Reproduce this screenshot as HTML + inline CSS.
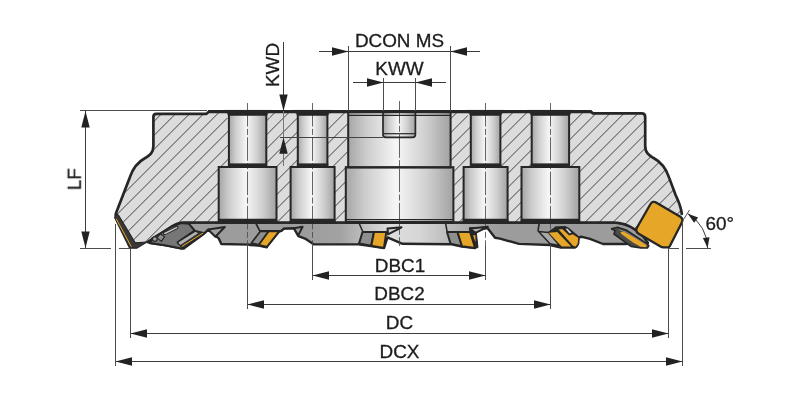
<!DOCTYPE html>
<html lang="en"><head><meta charset="utf-8"><title>Face mill dimension drawing</title>
<style>
html,body{margin:0;padding:0;background:#fff;}
body{width:800px;height:400px;overflow:hidden;}
svg{display:block;}
svg text{font-family:"Liberation Sans",Arial,Helvetica,sans-serif;fill:#1c1c1c;}
</style></head>
<body>
<svg width="800" height="400" viewBox="0 0 800 400">
<rect width="800" height="400" fill="#fff"/>
<defs>
<linearGradient id="cyl" x1="0" x2="1" y1="0" y2="0">
<stop offset="0" stop-color="#a6a6a6"/><stop offset="0.18" stop-color="#cdcdcd"/><stop offset="0.47" stop-color="#f6f6f6"/><stop offset="0.75" stop-color="#d0d0d0"/><stop offset="1" stop-color="#a2a2a2"/>
</linearGradient>
<linearGradient id="band" gradientUnits="userSpaceOnUse" x1="300" x2="500" y1="0" y2="0">
<stop offset="0" stop-color="#9c9c9c"/><stop offset="0.2" stop-color="#a2a2a2"/><stop offset="0.45" stop-color="#dedede"/><stop offset="0.6" stop-color="#d6d6d6"/><stop offset="0.8" stop-color="#b0b0b0"/><stop offset="1" stop-color="#9c9c9c"/>
</linearGradient>
<pattern id="hatch" patternUnits="userSpaceOnUse" width="14" height="14" x="1.4" y="0">
<path d="M-1,9 L9,-1 M7,15 L15,7" stroke="#303030" stroke-width="0.9" fill="none"/>
</pattern>
<clipPath id="bodyclip"><path d="M156.4,113.9 L206.5,113.9 L209,111.4 L590.5,111.4 L593,113.4 L641.7,113.4 Q645.2,113.4 645.2,116.9 L645.2,146 C645.2,153 649.4,155.6 653.2,157.8 C661,162 666,168.4 669,177.4 L675.6,195 C679,202 681,207 681.5,214 L667,247 L640,232 L635,229.5 C628,224.5 622,222.5 613,222.5 L183,222.5 C179,222.5 176,224 172,226.5 L148,242 L135,243 L116.6,213.8 L117.2,210 L129.8,177.4 C132.8,168.4 137.8,162 145.6,157.8 C149.4,155.6 153.4,153 153.4,146 L153.4,116.9 Q153.4,113.9 156.4,113.9 Z"/></clipPath>
</defs>
<path d="M181,222.5 L613,222.5 C622,222.5 628,224.5 635,229.5 L640,232 L648,243 L624,244 L603,244 L590,238.8 L582,236.8 L579,237.2 L575,247.5 L561,247.5 L550,245 L519,243.9 L500,238.6 L495,237.8 L487.5,228 L470,228.5 L475,248 L462,246.6 L450.5,244.2 L402.5,243.8 L387.5,237.4 L384,248 L371,246 L358.5,244.4 L314,244.4 L305,238.6 L298.4,236.2 L294.2,228.6 L284,228.6 L281.4,230.8 L279,231.6 L266.8,246.8 L258.9,245 L249.8,244.6 L221.3,244 L218.8,238.4 L215,235.5 L208.3,229.6 L204.6,233.2 L184,248.4 L181,248.4 L166,245.4 L150,243 L148,242 Z" fill="url(#band)" stroke="#262626" stroke-width="2.4" stroke-linejoin="round" stroke-linecap="round"/>
<path d="M156.4,113.9 L206.5,113.9 L209,111.4 L590.5,111.4 L593,113.4 L641.7,113.4 Q645.2,113.4 645.2,116.9 L645.2,146 C645.2,153 649.4,155.6 653.2,157.8 C661,162 666,168.4 669,177.4 L675.6,195 C679,202 681,207 681.5,214 L667,247 L640,232 L635,229.5 C628,224.5 622,222.5 613,222.5 L183,222.5 C179,222.5 176,224 172,226.5 L148,242 L135,243 L116.6,213.8 L117.2,210 L129.8,177.4 C132.8,168.4 137.8,162 145.6,157.8 C149.4,155.6 153.4,153 153.4,146 L153.4,116.9 Q153.4,113.9 156.4,113.9 Z" fill="#dcdcdc"/>
<rect x="100" y="100" width="600" height="160" fill="url(#hatch)" clip-path="url(#bodyclip)"/>
<path d="M148.4,158.9 C142.4,161.6 137.5,166 134.3,172" fill="none" stroke="#dcdcdc" stroke-width="3.4" stroke-linejoin="round" stroke-linecap="round"/>
<rect x="225.9" y="111" width="43.4" height="7" fill="#dcdcdc"/>
<rect x="228.9" y="112" width="37.4" height="54" fill="url(#cyl)"/>
<rect x="218.7" y="167" width="57.8" height="55" fill="url(#cyl)"/>
<rect x="294.8" y="111" width="35.6" height="7" fill="#dcdcdc"/>
<rect x="297.8" y="112" width="29.6" height="54" fill="url(#cyl)"/>
<rect x="290.6" y="167" width="44.0" height="55" fill="url(#cyl)"/>
<rect x="467.8" y="111" width="35.6" height="7" fill="#dcdcdc"/>
<rect x="470.8" y="112" width="29.6" height="54" fill="url(#cyl)"/>
<rect x="463.6" y="167" width="44.0" height="55" fill="url(#cyl)"/>
<rect x="528.6999999999999" y="111" width="43.4" height="7" fill="#dcdcdc"/>
<rect x="531.6999999999999" y="112" width="37.4" height="54" fill="url(#cyl)"/>
<rect x="521.5" y="167" width="57.8" height="55" fill="url(#cyl)"/>
<rect x="348.2" y="111.5" width="102.4" height="56" fill="url(#cyl)"/>
<rect x="345.8" y="167.2" width="107.6" height="55" fill="url(#cyl)"/>
<path d="M383,111.5 L383,134.5 Q383,137.3 385.8,137.3 L412.6,137.3 Q415.4,137.3 415.4,134.5 L415.4,111.5 Z" fill="url(#cyl)" stroke="none" stroke-width="0" stroke-linejoin="round" stroke-linecap="round"/>
<line x1="247.5" x2="247.5" y1="103" y2="246" stroke="#4a4a4a" stroke-width="0.85" stroke-dasharray="23.5 2.4 6 2.4" stroke-dashoffset="0"/>
<line x1="312.5" x2="312.5" y1="103" y2="246" stroke="#4a4a4a" stroke-width="0.85" stroke-dasharray="23.5 2.4 6 2.4" stroke-dashoffset="0"/>
<line x1="399.5" x2="399.5" y1="101" y2="246" stroke="#4a4a4a" stroke-width="0.85" stroke-dasharray="23.5 2.4 6 2.4" stroke-dashoffset="1"/>
<line x1="485.5" x2="485.5" y1="103" y2="246" stroke="#4a4a4a" stroke-width="0.85" stroke-dasharray="23.5 2.4 6 2.4" stroke-dashoffset="0"/>
<line x1="550.5" x2="550.5" y1="103" y2="246" stroke="#4a4a4a" stroke-width="0.85" stroke-dasharray="23.5 2.4 6 2.4" stroke-dashoffset="0"/>
<rect x="228.9" y="112" width="37.4" height="54" fill="none" stroke="#262626" stroke-width="2"/>
<rect x="218.7" y="167" width="57.8" height="55" fill="none" stroke="#262626" stroke-width="2"/>
<rect x="228.1" y="163.4" width="39.0" height="4.4" fill="#262626"/>
<path d="M224.4,110.4 L270.8,110.4 L270.8,111.6 Q267.3,112 266.90000000000003,115.4 L228.3,115.4 Q227.9,112 224.4,111.6 Z" fill="#262626" stroke="#262626" stroke-width="0.6" stroke-linejoin="round" stroke-linecap="round"/>
<rect x="297.8" y="112" width="29.6" height="54" fill="none" stroke="#262626" stroke-width="2"/>
<rect x="290.6" y="167" width="44.0" height="55" fill="none" stroke="#262626" stroke-width="2"/>
<rect x="297.0" y="163.4" width="31.200000000000003" height="4.4" fill="#262626"/>
<path d="M293.3,110.4 L331.90000000000003,110.4 L331.90000000000003,111.6 Q328.40000000000003,112 328.00000000000006,115.4 L297.2,115.4 Q296.8,112 293.3,111.6 Z" fill="#262626" stroke="#262626" stroke-width="0.6" stroke-linejoin="round" stroke-linecap="round"/>
<rect x="470.8" y="112" width="29.6" height="54" fill="none" stroke="#262626" stroke-width="2"/>
<rect x="463.6" y="167" width="44.0" height="55" fill="none" stroke="#262626" stroke-width="2"/>
<rect x="470.0" y="163.4" width="31.200000000000003" height="4.4" fill="#262626"/>
<path d="M466.3,110.4 L504.90000000000003,110.4 L504.90000000000003,111.6 Q501.40000000000003,112 501.00000000000006,115.4 L470.2,115.4 Q469.8,112 466.3,111.6 Z" fill="#262626" stroke="#262626" stroke-width="0.6" stroke-linejoin="round" stroke-linecap="round"/>
<rect x="531.6999999999999" y="112" width="37.4" height="54" fill="none" stroke="#262626" stroke-width="2"/>
<rect x="521.5" y="167" width="57.8" height="55" fill="none" stroke="#262626" stroke-width="2"/>
<rect x="530.9" y="163.4" width="39.0" height="4.4" fill="#262626"/>
<path d="M527.1999999999999,110.4 L573.6,110.4 L573.6,111.6 Q570.1,112 569.7,115.4 L531.0999999999999,115.4 Q530.6999999999999,112 527.1999999999999,111.6 Z" fill="#262626" stroke="#262626" stroke-width="0.6" stroke-linejoin="round" stroke-linecap="round"/>
<rect x="348.2" y="111.5" width="102.4" height="56" fill="none" stroke="#262626" stroke-width="2"/>
<rect x="345.8" y="167.2" width="107.6" height="55" fill="none" stroke="#262626" stroke-width="2"/>
<line x1="348" x2="450.6" y1="115.4" y2="115.4" stroke="#262626" stroke-width="1.3"/>
<line x1="346" x2="453" y1="219.6" y2="219.6" stroke="#262626" stroke-width="1.1"/>
<path d="M383,111.5 L383,134.5 Q383,137.3 385.8,137.3 L412.6,137.3 Q415.4,137.3 415.4,134.5 L415.4,111.5" fill="none" stroke="#262626" stroke-width="1.7" stroke-linejoin="round" stroke-linecap="round"/>
<line x1="383.6" x2="414.8" y1="133.7" y2="133.7" stroke="#262626" stroke-width="1.2"/>
<path d="M209,111.4 L206.5,113.9 L156.4,113.9 Q153.4,113.9 153.4,116.9 L153.4,146 C153.4,153 149.4,155.6 145.6,157.8 C137.8,162 132.8,168.4 129.8,177.4 L117.6,209 Q116.2,212 115.6,215" fill="none" stroke="#262626" stroke-width="2.7" stroke-linejoin="round" stroke-linecap="round"/>
<path d="M590.5,111.4 L593,113.4 L641.7,113.4 Q645.2,113.4 645.2,116.9 L645.2,146 C645.2,153 649.4,155.6 653.2,157.8 C661,162 666,168.4 669,177.4 L675.6,195 C679,202 681,207 681.8,214" fill="none" stroke="#262626" stroke-width="2.7" stroke-linejoin="round" stroke-linecap="round"/>
<line x1="208" x2="591.5" y1="111.7" y2="111.7" stroke="#262626" stroke-width="3.2"/>
<path d="M148,242 L172,226.5 C176,224 179,222.5 183,222.5 L613,222.5 C622,222.5 628,224.5 635,229.5 L640,232" fill="none" stroke="#262626" stroke-width="2.7" stroke-linejoin="round" stroke-linecap="round"/>
<path d="M215.29999999999998,223.7 Q218.1,222.6 218.29999999999998,218.7 L276.9,218.7 Q277.1,222.6 279.9,223.7 Z" fill="#262626" stroke="none" stroke-width="0" stroke-linejoin="round" stroke-linecap="round"/>
<path d="M287.20000000000005,223.7 Q290.0,222.6 290.20000000000005,218.7 L335.0,218.7 Q335.20000000000005,222.6 338.0,223.7 Z" fill="#262626" stroke="none" stroke-width="0" stroke-linejoin="round" stroke-linecap="round"/>
<path d="M460.20000000000005,223.7 Q463.0,222.6 463.20000000000005,218.7 L508.0,218.7 Q508.20000000000005,222.6 511.0,223.7 Z" fill="#262626" stroke="none" stroke-width="0" stroke-linejoin="round" stroke-linecap="round"/>
<path d="M518.1,223.7 Q520.9,222.6 521.1,218.7 L579.6999999999999,218.7 Q579.9,222.6 582.6999999999999,223.7 Z" fill="#262626" stroke="none" stroke-width="0" stroke-linejoin="round" stroke-linecap="round"/>
<rect x="345" y="221.3" width="109" height="2.5" fill="#262626"/>
<path d="M114.6,217.4 L116.6,213.8 L119,216 L135.2,242.8 L147,242 L136.6,248.2 L129.6,248.2 Z" fill="#383838" stroke="#262626" stroke-width="1.2" stroke-linejoin="round" stroke-linecap="round"/>
<path d="M116.3,219.2 L131.2,246.4" fill="none" stroke="#e6a627" stroke-width="1" stroke-linejoin="round" stroke-linecap="round"/>
<path d="M150,243 L152.5,238 L172,226.5 L181,223 L189,223.8 L194.6,230.5 L177.6,242.4 L184,248.4 L181,248.4 L166,245.4 Z" fill="#767676" stroke="#262626" stroke-width="2.0" stroke-linejoin="round" stroke-linecap="round"/>
<path d="M156.8,237.6 L160.2,234 L164.6,236.6 L161.4,241.4 Z" fill="#8c8c8c" stroke="#262626" stroke-width="1.1" stroke-linejoin="round" stroke-linecap="round"/>
<path d="M164.6,233.6 L176.8,227.5" fill="none" stroke="#262626" stroke-width="3.4" stroke-linejoin="round" stroke-linecap="round"/>
<path d="M164.8,233.5 L176.6,227.6" fill="none" stroke="#c4c4c4" stroke-width="1.6" stroke-linejoin="round" stroke-linecap="round"/>
<circle cx="154.8" cy="239" r="2.3" fill="#a0a0a0" stroke="#262626" stroke-width="1.1"/>
<path d="M177.5,242.3 L195.4,230.8 L204.4,233 L183.4,248.4 Z" fill="#343434" stroke="#262626" stroke-width="1.4" stroke-linejoin="round" stroke-linecap="round"/>
<path d="M178.4,242.6 L195.6,231.7 L198,233.2 L180.2,245 Z" fill="#b4b4b4" stroke="none" stroke-width="0" stroke-linejoin="round" stroke-linecap="round"/>
<path d="M182,246.3 L202.8,233.2" fill="none" stroke="#e6a627" stroke-width="1.0" stroke-linejoin="round" stroke-linecap="round"/>
<path d="M208.4,229.6 L224.8,227 L215.3,236.7 Z" fill="#a0a0a0" stroke="#262626" stroke-width="2.0" stroke-linejoin="round" stroke-linecap="round"/>
<path d="M294,228.2 L302.6,226.8 L298.2,235.4 Z" fill="#a0a0a0" stroke="#262626" stroke-width="2.0" stroke-linejoin="round" stroke-linecap="round"/>
<path d="M387.5,228.6 L401.5,227.3 L388,234.4 Z" fill="#d0d0d0" stroke="#262626" stroke-width="2.0" stroke-linejoin="round" stroke-linecap="round"/>
<path d="M470.5,228.6 L487.8,226.8 L474.5,233.4 Z" fill="#b4b4b4" stroke="#262626" stroke-width="2.0" stroke-linejoin="round" stroke-linecap="round"/>
<path d="M256.2,224 L259.8,230.8 L281.4,230.8 L283.6,228.6 L293.6,227.8" fill="none" stroke="#262626" stroke-width="1.7" stroke-linejoin="round" stroke-linecap="round"/>
<path d="M251.4,243 L260.2,231.4 L268.6,231.4 L258.9,244.8 Z" fill="#8f8f8f" stroke="#262626" stroke-width="1.7" stroke-linejoin="round" stroke-linecap="round"/>
<path d="M268.6,231.4 L279.2,231.4 L266.8,246.9 L258.9,244.8 Z" fill="#e6a627" stroke="#262626" stroke-width="1.7" stroke-linejoin="round" stroke-linecap="round"/>
<path d="M249.8,245 L258.9,245.6 L266.8,247.3" fill="none" stroke="#262626" stroke-width="2.4" stroke-linejoin="round" stroke-linecap="round"/>
<path d="M359,223 L362.5,231" fill="none" stroke="#262626" stroke-width="1.5" stroke-linejoin="round" stroke-linecap="round"/>
<path d="M362.5,232 L374,232 L371.3,245.8 L359,243.6 Z" fill="#8f8f8f" stroke="#262626" stroke-width="2.0" stroke-linejoin="round" stroke-linecap="round"/>
<path d="M374,232 L386.3,232 L384,247.9 L371.3,245.8 Z" fill="#e6a627" stroke="#262626" stroke-width="2.0" stroke-linejoin="round" stroke-linecap="round"/>
<path d="M445.6,223 L447,231" fill="none" stroke="#262626" stroke-width="1.5" stroke-linejoin="round" stroke-linecap="round"/>
<path d="M447,232 L457.5,232 L462,246.3 L450.5,243.6 Z" fill="#8f8f8f" stroke="#262626" stroke-width="2.0" stroke-linejoin="round" stroke-linecap="round"/>
<path d="M457.5,232 L470,232 L475.2,248 L462,246.3 Z" fill="#e6a627" stroke="#262626" stroke-width="2.0" stroke-linejoin="round" stroke-linecap="round"/>
<path d="M470,228.6 L476.3,232.5 L478,247.6 L475.2,248 Z" fill="#262626" stroke="#262626" stroke-width="1" stroke-linejoin="round" stroke-linecap="round"/>
<path d="M473,235.3 L475.4,235.3 L475.6,242.5 Z" fill="#e6a627" stroke="none" stroke-width="0" stroke-linejoin="round" stroke-linecap="round"/>
<path d="M539.2,223.6 L538,230.6" fill="none" stroke="#262626" stroke-width="1.6" stroke-linejoin="round" stroke-linecap="round"/>
<path d="M548.3,232.2 L553.4,228.6 L555.5,226.9 L565.3,226.6 L568.8,228.3 L579.2,237 L578.9,243.8 L576.8,247.4 L561.1,247.4 L558,244.75 Z" fill="#262626" stroke="#262626" stroke-width="1.0" stroke-linejoin="round" stroke-linecap="round"/>
<path d="M538.6,231.6 L548.5,232.6 L559.5,245.4 L550,243.8 Z" fill="#a8a8a8" stroke="#262626" stroke-width="1.5" stroke-linejoin="round" stroke-linecap="round"/>
<path d="M548.8,232.7 L557.2,231.9 L571.2,246.4 L561.8,246.4 L559.8,244.6 Z" fill="#e6a627" stroke="none" stroke-width="0" stroke-linejoin="round" stroke-linecap="round"/>
<path d="M558.7,229.4 L562.2,228.9 L569.2,235.6 L572.6,234.3 L578.2,237.8 L577.8,243.2 L575.8,246.4 L573,245.8 Z" fill="#e6a627" stroke="none" stroke-width="0" stroke-linejoin="round" stroke-linecap="round"/>
<path d="M565.6,228.8 L567.4,228.5 L571.4,232.5 L569.6,233.6 Z" fill="#d4d4d4" stroke="none" stroke-width="0" stroke-linejoin="round" stroke-linecap="round"/>
<path d="M611.5,228.8 L617.5,227.2 L626,230 L647.6,244.2 L648.8,245.8 L647.4,248 L641,248 L631,246.4 L614,234 L615,230.8 Z" fill="#4a4a4a" stroke="#262626" stroke-width="1.6" stroke-linejoin="round" stroke-linecap="round"/>
<path d="M619.5,229.8 L626,232 L646,244.6" fill="none" stroke="#858585" stroke-width="1.0" stroke-linejoin="round" stroke-linecap="round"/>
<path d="M620.4,232 L623.6,231.6 L635,238 L646.8,245.4 L646,247.2 L640.5,246.8 L633,242.5 L621.4,234 Z" fill="#e6a627" stroke="none" stroke-width="0" stroke-linejoin="round" stroke-linecap="round"/>
<path d="M650.36,204.30 Q652.60,200.40 656.48,202.68 L679.92,216.42 Q683.80,218.70 681.75,222.71 L669.75,246.23 Q669.20,247.30 668.00,247.30 L663.20,247.30 Q662.00,247.30 660.96,246.69 L638.68,233.67 Q634.80,231.40 637.04,227.50 Z" fill="#e6a627" stroke="#262626" stroke-width="2.3" stroke-linejoin="round" stroke-linecap="round"/>
<line x1="312.5" x2="312.5" y1="246" y2="280" stroke="#4c4c4c" stroke-width="1" shape-rendering="crispEdges"/>
<line x1="485.5" x2="485.5" y1="246" y2="280" stroke="#4c4c4c" stroke-width="1" shape-rendering="crispEdges"/>
<line x1="312.5" x2="485.5" y1="275.5" y2="275.5" stroke="#3c3c3c" stroke-width="1" shape-rendering="crispEdges"/>
<path d="M312.5,275.5 L329.00,271.30 L329.00,279.70 Z" fill="#222"/>
<path d="M485.5,275.5 L469.00,279.70 L469.00,271.30 Z" fill="#222"/>
<line x1="247.5" x2="247.5" y1="246" y2="308.5" stroke="#4c4c4c" stroke-width="1" shape-rendering="crispEdges"/>
<line x1="550.5" x2="550.5" y1="246" y2="308.5" stroke="#4c4c4c" stroke-width="1" shape-rendering="crispEdges"/>
<line x1="247.5" x2="550.5" y1="304.5" y2="304.5" stroke="#3c3c3c" stroke-width="1" shape-rendering="crispEdges"/>
<path d="M247.5,304.5 L264.00,300.30 L264.00,308.70 Z" fill="#222"/>
<path d="M550.5,304.5 L534.00,308.70 L534.00,300.30 Z" fill="#222"/>
<line x1="130.5" x2="130.5" y1="248" y2="337.5" stroke="#4c4c4c" stroke-width="1" shape-rendering="crispEdges"/>
<line x1="668.5" x2="668.5" y1="248" y2="337.5" stroke="#4c4c4c" stroke-width="1" shape-rendering="crispEdges"/>
<line x1="130.5" x2="668.5" y1="333.5" y2="333.5" stroke="#3c3c3c" stroke-width="1" shape-rendering="crispEdges"/>
<path d="M130.5,333.5 L147.00,329.30 L147.00,337.70 Z" fill="#222"/>
<path d="M668.5,333.5 L652.00,337.70 L652.00,329.30 Z" fill="#222"/>
<line x1="115.5" x2="115.5" y1="224" y2="366" stroke="#4c4c4c" stroke-width="1" shape-rendering="crispEdges"/>
<line x1="682.5" x2="682.5" y1="221" y2="366" stroke="#4c4c4c" stroke-width="1" shape-rendering="crispEdges"/>
<line x1="115.5" x2="682.5" y1="361.5" y2="361.5" stroke="#3c3c3c" stroke-width="1" shape-rendering="crispEdges"/>
<path d="M115.5,361.5 L132.00,357.30 L132.00,365.70 Z" fill="#222"/>
<path d="M682.5,361.5 L666.00,365.70 L666.00,357.30 Z" fill="#222"/>
<line x1="80" x2="207" y1="110.5" y2="110.5" stroke="#4c4c4c" stroke-width="1" shape-rendering="crispEdges"/>
<line x1="80" x2="111" y1="248.5" y2="248.5" stroke="#4c4c4c" stroke-width="1" shape-rendering="crispEdges"/>
<line x1="119" x2="131" y1="248.5" y2="248.5" stroke="#4c4c4c" stroke-width="1" shape-rendering="crispEdges"/>
<line x1="85.5" x2="85.5" y1="111" y2="248" stroke="#3c3c3c" stroke-width="1" shape-rendering="crispEdges"/>
<path d="M85.5,111 L89.70,127.50 L81.30,127.50 Z" fill="#222"/>
<path d="M85.5,248 L81.30,231.50 L89.70,231.50 Z" fill="#222"/>
<line x1="348.5" x2="348.5" y1="46" y2="111" stroke="#4c4c4c" stroke-width="1" shape-rendering="crispEdges"/>
<line x1="450.5" x2="450.5" y1="46" y2="111" stroke="#4c4c4c" stroke-width="1" shape-rendering="crispEdges"/>
<line x1="319" x2="480" y1="51.5" y2="51.5" stroke="#3c3c3c" stroke-width="1" shape-rendering="crispEdges"/>
<path d="M348.5,51.5 L332.00,55.70 L332.00,47.30 Z" fill="#222"/>
<path d="M450.5,51.5 L467.00,47.30 L467.00,55.70 Z" fill="#222"/>
<line x1="383.5" x2="383.5" y1="78" y2="111" stroke="#4c4c4c" stroke-width="1" shape-rendering="crispEdges"/>
<line x1="415.5" x2="415.5" y1="78" y2="111" stroke="#4c4c4c" stroke-width="1" shape-rendering="crispEdges"/>
<line x1="353" x2="446" y1="82.5" y2="82.5" stroke="#3c3c3c" stroke-width="1" shape-rendering="crispEdges"/>
<path d="M383.5,82.5 L367.00,86.70 L367.00,78.30 Z" fill="#222"/>
<path d="M415.5,82.5 L432.00,78.30 L432.00,86.70 Z" fill="#222"/>
<line x1="283.5" x2="283.5" y1="42" y2="111" stroke="#3c3c3c" stroke-width="1" shape-rendering="crispEdges"/>
<line x1="283.5" x2="283.5" y1="111" y2="165.5" stroke="#777" stroke-width="1" shape-rendering="crispEdges"/>
<path d="M283.5,111 L279.30,94.50 L287.70,94.50 Z" fill="#222"/>
<path d="M283.5,137.3 L287.70,153.80 L279.30,153.80 Z" fill="#222"/>
<line x1="280" x2="383" y1="137.5" y2="137.5" stroke="#444" stroke-width="1" shape-rendering="crispEdges"/>
<line x1="669" x2="679" y1="248.5" y2="248.5" stroke="#4c4c4c" stroke-width="1" shape-rendering="crispEdges"/>
<line x1="686" x2="711" y1="248.5" y2="248.5" stroke="#4c4c4c" stroke-width="1" shape-rendering="crispEdges"/>
<path d="M683.5,219.5 L689.5,210" stroke="#3c3c3c" stroke-width="0.9" fill="none"/>
<path d="M687.80,213.71 A39.6,39.6 0 0 1 707.6,248" stroke="#3c3c3c" stroke-width="1" fill="none"/>
<path d="M687.8,213.70539401013622 L698.13,217.50 L694.11,222.73 Z" fill="#222"/>
<path d="M707.6,248.0 L702.94,238.03 L709.48,237.16 Z" fill="#222"/>
<g opacity="0.999" stroke="#1c1c1c" stroke-width="0.3">
<text transform="translate(400 271.5) scale(0.995 1)" x="0" y="0" text-anchor="middle" font-size="19">DBC1</text>
<text transform="translate(399.5 300) scale(0.995 1)" x="0" y="0" text-anchor="middle" font-size="19">DBC2</text>
<text transform="translate(399.5 328.5) scale(0.995 1)" x="0" y="0" text-anchor="middle" font-size="19">DC</text>
<text transform="translate(399.5 357.5) scale(0.995 1)" x="0" y="0" text-anchor="middle" font-size="19">DCX</text>
<text transform="translate(399.5 46.5) scale(0.995 1)" x="0" y="0" text-anchor="middle" font-size="19">DCON MS</text>
<text transform="translate(399.5 74.5) scale(0.995 1)" x="0" y="0" text-anchor="middle" font-size="19">KWW</text>
<text transform="translate(279.2 65) rotate(-90) scale(0.995 1)" x="0" y="0" text-anchor="middle" font-size="19">KWD</text>
<text transform="translate(80.8 179.3) rotate(-90) scale(0.995 1)" x="0" y="0" text-anchor="middle" font-size="19">LF</text>
<text transform="translate(705.5 229.6) scale(0.995 1)" x="0" y="0" text-anchor="start" font-size="19">60°</text>
</g>
</svg>
</body></html>
